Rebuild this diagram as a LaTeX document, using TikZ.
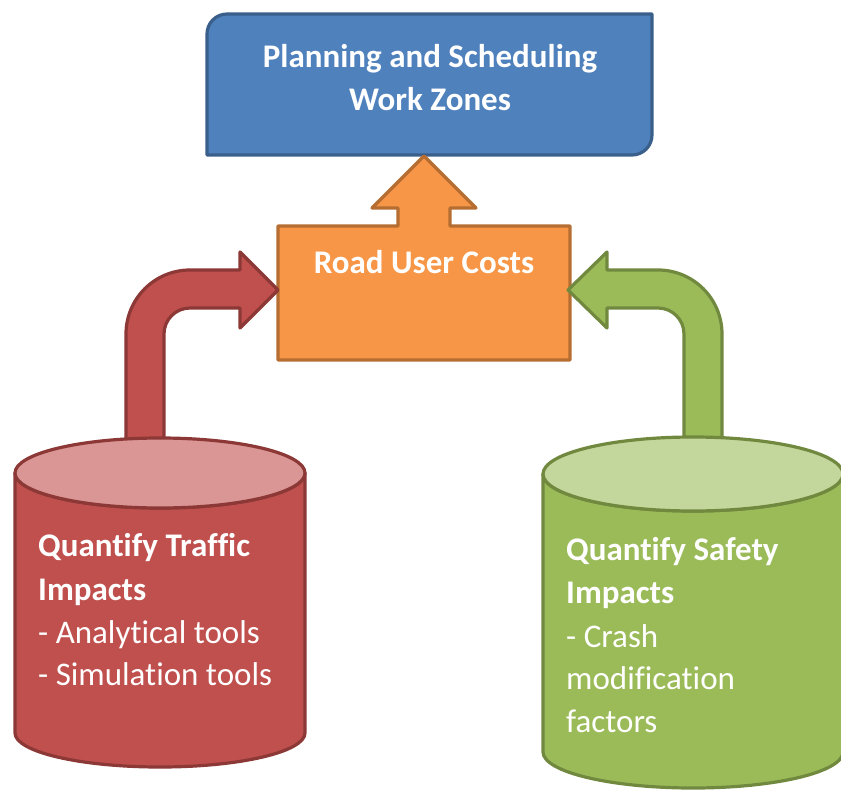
\documentclass[tikz,border=0pt]{standalone}
\usepackage{fontspec}
\setmainfont[Ligatures=NoCommon]{Carlito}
\definecolor{bluefill}{HTML}{4F81BD}
\definecolor{blueline}{HTML}{3A5F8B}
\definecolor{orangefill}{HTML}{F79646}
\definecolor{orangeline}{HTML}{B66D31}
\definecolor{redfill}{HTML}{C0504D}
\definecolor{redline}{HTML}{8C3836}
\definecolor{redtop}{HTML}{D99694}
\definecolor{greenfill}{HTML}{9BBB59}
\definecolor{greenline}{HTML}{71893F}
\definecolor{greentop}{HTML}{C3D69B}
\tikzset{
  shapeline/.style={line width=3.2pt, line join=round},
  headtxt/.style={text=white, font=\fontsize{33}{43}\selectfont\bfseries, inner sep=0pt},
  itemtxt/.style={text=white, font=\fontsize{33}{43}\selectfont, inner sep=0pt},
}
\begin{document}
\begin{tikzpicture}[x=1pt,y=-1pt]
\useasboundingbox (0,0) rectangle (841,790);
\clip (0,0) rectangle (841,790);
% blue box
\draw[shapeline, draw=blueline, fill=bluefill]
  (207,155) -- (207,34) arc (180:270:20) -- (652,14) -- (652,135) arc (0:90:20) -- cycle;
\node[headtxt, anchor=base] (t1) at (430,67) {Planning and Scheduling};
\node[headtxt, anchor=base] (t2) at (430,110) {Work Zones};
% orange up arrow box
\draw[shapeline, draw=orangeline, fill=orangefill]
  (278,226) -- (398,226) -- (398,208) -- (372,208) -- (424,156) -- (476,208)
  -- (450,208) -- (450,226) -- (570,226) -- (570,360) -- (278,360) -- cycle;
\node[headtxt, anchor=base] (ruc) at (424,273) {Road User Costs};
% red bent arrow
\draw[shapeline, draw=redline, fill=redfill]
  (126,460) -- (126,334) arc (180:270:64) -- (240,270) -- (240,252) -- (278,290)
  -- (240,328) -- (240,308) -- (190,308) arc (270:180:26) -- (164,460) -- cycle;
% green bent arrow
\draw[shapeline, draw=greenline, fill=greenfill]
  (722,460) -- (722,334) arc (0:-90:64) -- (607,270) -- (607,252) -- (568,290)
  -- (607,328) -- (607,308) -- (658,308) arc (-90:0:26) -- (684,460) -- cycle;
% red cylinder
\draw[shapeline, draw=redline, fill=redfill]
  (15,473) -- (15,733) arc (180:0:145 and 34) -- (305,473) arc (0:180:145 and 35) -- cycle;
\draw[shapeline, draw=redline, fill=redtop] (160,473) ellipse (145 and 35);
\node[headtxt, anchor=base west] (r1) at (38,556) {Quantify Traffic};
\node[headtxt, anchor=base west] (r2) at (38,600) {Impacts};
\node[itemtxt, anchor=base west] (r3) at (38,643) {- Analytical tools};
\node[itemtxt, anchor=base west] (r4) at (38,685) {- Simulation tools};
% green cylinder
\draw[shapeline, draw=greenline, fill=greenfill]
  (543,474) -- (543,752) arc (180:0:150 and 36) -- (843,474) arc (0:180:150 and 37) -- cycle;
\draw[shapeline, draw=greenline, fill=greentop] (693,474) ellipse (150 and 37);
\node[headtxt, anchor=base west] (g1) at (566,560) {Quantify Safety};
\node[headtxt, anchor=base west] (g2) at (566,603) {Impacts};
\node[itemtxt, anchor=base west] (g3) at (566,647) {- Crash};
\node[itemtxt, anchor=base west] (g4) at (566,689) {modification};
\node[itemtxt, anchor=base west] (g5) at (566,732) {factors};
\end{tikzpicture}
\end{document}
